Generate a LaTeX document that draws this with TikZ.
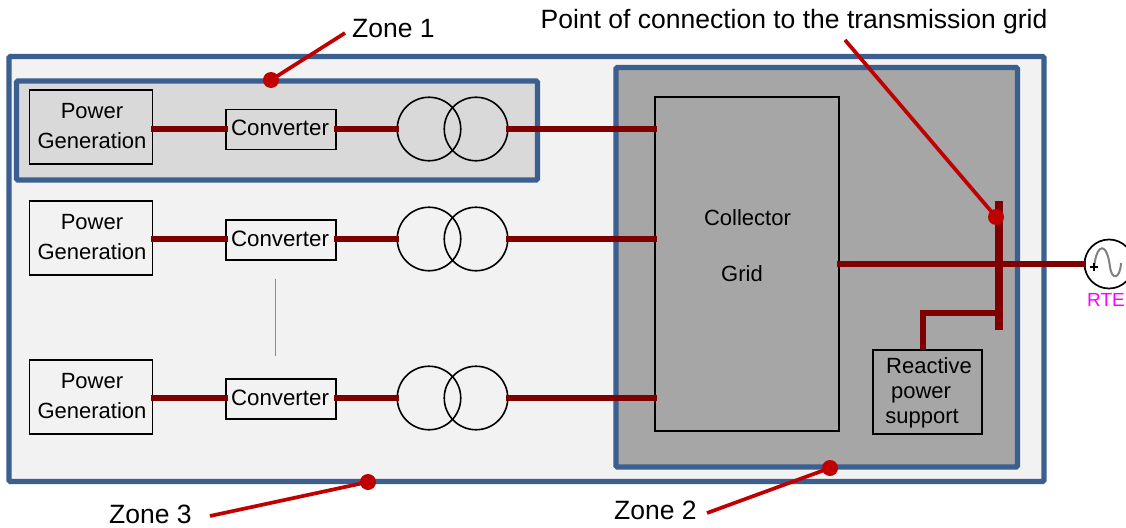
\documentclass[tikz,border=0pt]{standalone}
\usepackage{fontspec}
\setmainfont{Liberation Sans}
\definecolor{zoneblue}{HTML}{3B5F8F}
\definecolor{wirered}{HTML}{7F0000}
\definecolor{leadred}{HTML}{C00000}
\definecolor{rtepink}{HTML}{FF00FF}
\tikzset{
  zonebox/.style={draw=zoneblue,line width=5.4pt,rounded corners=1.5pt,inner sep=0pt},
  blackbox/.style={draw=black,line width=1.7pt,inner sep=0pt,align=center,font=\fontsize{22}{30.5}\selectfont},
  pgbox/.style={blackbox,minimum width=123pt,minimum height=74pt,
    label={[inner sep=0pt,align=center,font=\fontsize{22}{30.5}\selectfont,xshift=1pt,yshift=0.8pt]center:Power\\Generation}},
  convbox/.style={blackbox,minimum width=110pt,minimum height=40pt,
    label={[inner sep=0pt,font=\fontsize{22.3}{26}\selectfont,xshift=-1pt,yshift=1.6pt]center:Converter}},
  coil/.style={circle,draw=black,line width=1.6pt,minimum size=63.5pt,inner sep=0pt},
  wire/.style={draw=wirered,line width=5.7pt,shorten <=-2.5pt,shorten >=-2.5pt},
  leaddot/.style={circle,fill=leadred,minimum size=16pt,inner sep=0pt},
  leadline/.style={draw=leadred,line width=3.7pt},
  lbl/.style={inner sep=0pt,font=\fontsize{22}{26}\selectfont},
  biglbl/.style={inner sep=0pt,font=\fontsize{26.5}{30}\selectfont}
}
\begin{document}
\begin{tikzpicture}[x=1pt,y=-1pt]
\useasboundingbox (0,0) rectangle (1126,527);
% zones
\node[zonebox,fill=black!5,minimum width=1035pt,minimum height=425pt] (zone3) at (526.5,269) {};
\node[zonebox,fill=black!15,minimum width=521pt,minimum height=99pt] (zone1) at (277,130.5) {};
\node[zonebox,fill=black!35,minimum width=401.5pt,minimum height=399.5pt] (zone2) at (816.75,267.25) {};
% collector
\node[blackbox,minimum width=184pt,minimum height=334pt] (cg) at (747,264) {};
\node[lbl] (cgt1) at (747.5,218) {Collector};
\node[lbl] (cgt2) at (742,274) {Grid};
% reactive support
\node[blackbox,minimum width=109pt,minimum height=84pt] (rp) at (927.5,392) {};
\node[lbl,anchor=base] (rpt1) at (929,373) {Reactive};
\node[lbl,anchor=base] (rpt2) at (921,398) {power};
\node[lbl,anchor=base] (rpt3) at (922,423) {support};
% rows
\node[pgbox] (pg1) at (91,127) {};
\node[pgbox] (pg2) at (91,238) {};
\node[pgbox] (pg3) at (91,397) {};
\node[convbox] (c1) at (281,129.5) {};
\node[convbox] (c2) at (281,240) {};
\node[convbox] (c3) at (281,399) {};
\node[coil] (t1a) at (429,129) {};
\node[coil] (t1b) at (476,129) {};
\node[coil] (t2a) at (429,239) {};
\node[coil] (t2b) at (476,239) {};
\node[coil] (t3a) at (429,398) {};
\node[coil] (t3b) at (476,398) {};
% separator
\coordinate (sepa) at (275,279);
\coordinate (sepb) at (275,356);
\draw[black!45,line width=1pt] (sepa) -- (sepb);
% RTE source
\node[circle,draw=black,line width=1.7pt,fill=white,minimum size=49pt,inner sep=0pt] (rte) at (1109,264) {};
\draw[black!50,line width=2pt] (1094,267) .. controls (1097,242) and (1107,242) .. (1110,267)
   .. controls (1112,281) and (1120,279) .. (1121,263);
\draw[black,line width=1.4pt] (1090,267) -- (1098,267) (1094,263) -- (1094,271);
\node[inner sep=0pt,text=rtepink,font=\fontsize{19}{22}\selectfont] (rtel) at (1106,300) {RTE};
% bus
\node[fill=wirered,minimum width=8pt,minimum height=129pt,inner sep=0pt] (bus) at (999,265.5) {};
% wires
\foreach \r in {1,2,3}{
  \draw[wire] (pg\r.east |- t\r a) -- (c\r.west |- t\r a);
  \draw[wire] (c\r.east |- t\r a) -- (t\r a.west);
  \draw[wire] (t\r b.east) -- (t\r b.east -| cg.west);
}
\draw[wire] (cg.east) -- (rte.west);
\coordinate (rptop) at (923,350);
\coordinate (bustap) at (999,313);
\draw[wire,shorten <=0pt,shorten >=0pt] (rptop) |- (bustap);
% labels and leaders
\node[biglbl,anchor=west] (z1) at (352,29) {Zone 1};
\node[biglbl,anchor=west] (z3) at (109,514) {Zone 3};
\node[biglbl,anchor=west] (z2) at (614,510) {Zone 2};
\node[biglbl] (poc) at (794,22) {Point of connection to the transmission grid};
\node[leaddot] (d1) at (271,80) {};
\node[leaddot] (d2) at (830,468) {};
\node[leaddot] (d3) at (368,482) {};
\node[leaddot] (d4) at (996,217) {};
\coordinate (e1) at (345,33);
\coordinate (e2) at (707,513);
\coordinate (e3) at (210,516);
\coordinate (e4) at (845,40);
\draw[leadline] (d1.center) -- (e1);
\draw[leadline] (d2.center) -- (e2);
\draw[leadline] (d3.center) -- (e3);
\draw[leadline] (d4.center) -- (e4);
\end{tikzpicture}
\end{document}
